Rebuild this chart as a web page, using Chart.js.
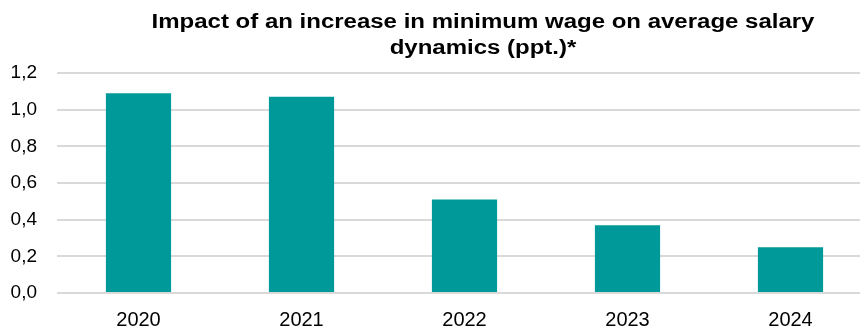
<!DOCTYPE html>
<html>
<head>
<meta charset="utf-8">
<script src="https://cdn.jsdelivr.net/npm/chart.js@4.4.1/dist/chart.umd.min.js"></script>
<style>
  html, body { margin: 0; padding: 0; background: #fff; overflow: hidden; }
</style>
</head>
<body>
<canvas id="impactChart" width="880" height="329"></canvas>
<script>
  // data
  var years = ["2020", "2021", "2022", "2023", "2024"];
  var impact = [1.09, 1.07, 0.51, 0.37, 0.25];
  var titleLines = ["Impact of an increase in minimum wage on average salary", "dynamics (ppt.)*"];

  var barColor = "#009999";
  var gridColor = "#d9d9d9";

  // title drawn a bit wider than the font normally is, like the reference
  var titlePlugin = {
    id: "wideTitle",
    afterDraw: function(chart) {
      var ctx = chart.ctx;
      ctx.save();
      ctx.fillStyle = "#000";
      ctx.font = "bold 20px 'Liberation Sans', Arial, sans-serif";
      ctx.textAlign = "center";
      ctx.textBaseline = "alphabetic";
      var baselines = [28, 54];
      for (var i = 0; i < titleLines.length; i++) {
        ctx.save();
        ctx.translate(483, baselines[i]);
        ctx.scale(1.2, 1);
        ctx.fillText(titleLines[i], 0, 0);
        ctx.restore();
      }
      ctx.restore();
    }
  };

  var ctx = document.getElementById("impactChart").getContext("2d");
  var chart = new Chart(ctx, {
    type: "bar",
    data: {
      labels: years,
      datasets: [{
        label: "Impact",
        data: impact,
        backgroundColor: barColor,
        borderWidth: 0,
        categoryPercentage: 1,
        barPercentage: 0.4
      }]
    },
    options: {
      responsive: false,
      animation: false,
      devicePixelRatio: 1,
      layout: { padding: { left: 10, right: 8, top: 73, bottom: 0 } },
      plugins: {
        legend: { display: false },
        title: { display: false },
        tooltip: { enabled: false }
      },
      scales: {
        x: {
          afterFit: function(scale) { scale.height = 36; },
          grid: { display: false, drawTicks: false },
          border: { display: false },
          ticks: {
            color: "#000",
            padding: 15,
            font: { family: "'Liberation Sans', Arial, sans-serif", size: 20 }
          }
        },
        y: {
          min: 0,
          max: 1.2,
          afterFit: function(scale) { scale.width = 47; },
          grid: { color: gridColor, lineWidth: 2, drawTicks: false },
          border: { display: false },
          ticks: {
            stepSize: 0.2,
            color: "#000",
            padding: 20,
            font: { family: "'Liberation Sans', Arial, sans-serif", size: 19 },
            callback: function(value) {
              return value.toFixed(1).replace(".", ",");
            }
          }
        }
      }
    },
    plugins: [titlePlugin]
  });
</script>
</body>
</html>
